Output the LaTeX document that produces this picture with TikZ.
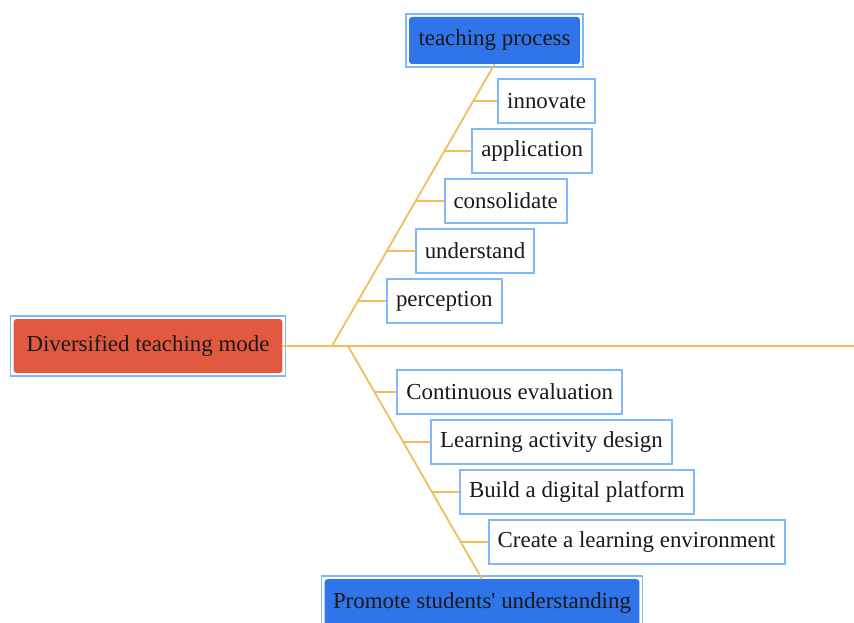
\documentclass[tikz,border=0pt]{standalone}
\usepackage{fontspec}
\setmainfont{Liberation Serif}
\usetikzlibrary{positioning, calc}
\definecolor{framecol}{HTML}{80B8F8}
\definecolor{linecol}{HTML}{F2BE5C}
\definecolor{rootcol}{HTML}{E15A40}
\definecolor{topcol}{HTML}{2F74E8}
\tikzset{
    x=1pt, y=-1pt, % one unit is one pixel of the reference, y runs down
    every node/.style={font=\fontsize{22.9}{27}\selectfont, text=black!90}, % text size of all boxes
    leaf/.style={draw=framecol, line width=2pt, fill=white, minimum height=44pt, inner xsep=9pt}, % white boxes
    topic/.style={fill=topcol, rounded corners=3pt, minimum height=47pt, inner xsep=9.5pt}, % blue boxes
    branch/.style={draw=linecol, line width=1.8pt}, % orange lines
    outline/.style={draw=framecol, line width=1.5pt}, % thin frame round the filled boxes
}
\begin{document}
\begin{tikzpicture}
                  \useasboundingbox (0,0) rectangle (854,623);
                  \node[topic, fill=rootcol, rounded corners=3pt, minimum height=54pt, inner xsep=13pt] (mode) at (148,346) {Diversified teaching mode};
                  \node[topic] (proc) at (494.5,40.5) {teaching process};
                  \node[topic, anchor=north, inner xsep=8.5pt] (prom) at (482,579) {Promote students\textquotesingle{} understanding};
                  \foreach \n in {mode, proc, prom}
                      \draw[outline] ([shift={(-3,-3)}]\n.north west) rectangle ([shift={(3,3)}]\n.south east);
                  \coordinate (up0) at (332,346);
                  \coordinate (dn0) at (348,346);
                  \coordinate (tail) at (854,346);
                  \draw[branch] (mode.east) -- (tail);
                  \draw[branch] (up0) -- (proc.south);
                  \draw[branch] (dn0) -- (prom.north);
                  % upper branch
                  \foreach \t/\g/\txt [count=\i] in {0.160/28/perception, 0.337/28/understand, 0.514/28/consolidate, 0.691/27/application, 0.869/24/innovate}{
                      \coordinate (u\i) at ($(up0)!\t!(proc.south)$);
                      \node[leaf, right=\g pt of u\i] (p\i) {\txt};
                      \draw[branch] (u\i) -- (p\i);
                  }
                  % lower branch
                  \foreach \t/\g/\txt [count=\i] in {0.197/22/Continuous evaluation, 0.412/27/Learning activity design, 0.627/27/Build a digital platform, 0.841/27/Create a learning environment}{
                      \coordinate (d\i) at ($(dn0)!\t!(prom.north)$);
                      \node[leaf, right=\g pt of d\i] (s\i) {\txt};
                      \draw[branch] (d\i) -- (s\i);
                  }
              \end{tikzpicture}
\end{document}
